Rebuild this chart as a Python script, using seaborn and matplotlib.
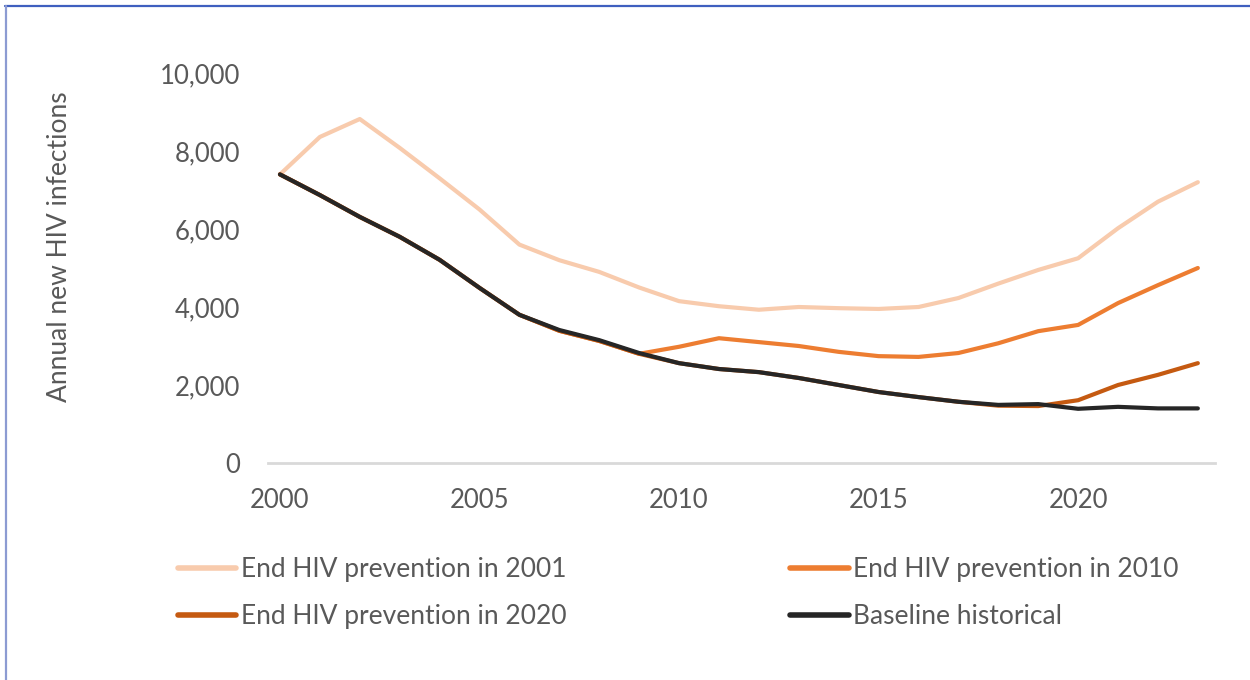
import matplotlib
matplotlib.use("Agg")
import matplotlib.pyplot as plt
from matplotlib.lines import Line2D
import seaborn as sns
import pandas as pd
from matplotlib.ticker import FuncFormatter

years = list(range(2000, 2024))

end_2001 = [7400, 8360, 8820, 8080, 7300, 6500, 5600, 5200, 4900, 4500,
            4150, 4020, 3930, 4000, 3970, 3950, 4000, 4230, 4600, 4950,
            5250, 6020, 6700, 7200]
end_2010 = [7400, 6870, 6310, 5800, 5210, 4490, 3800, 3390, 3130, 2800,
            2980, 3200, 3100, 3000, 2850, 2740, 2720, 2820, 3070, 3380,
            3540, 4100, 4560, 5000]
end_2020 = [7400, 6870, 6310, 5800, 5210, 4490, 3800, 3390, 3130, 2800,
            2560, 2410, 2330, 2180, 2000, 1820, 1690, 1570, 1470, 1460,
            1610, 2000, 2260, 2560]
baseline = [7400, 6870, 6310, 5800, 5210, 4490, 3800, 3410, 3150, 2820,
            2560, 2410, 2330, 2180, 2000, 1820, 1690, 1570, 1490, 1510,
            1390, 1440, 1400, 1400]

series_names = ["End HIV prevention in 2001", "End HIV prevention in 2010",
                "End HIV prevention in 2020", "Baseline historical"]
series_values = [end_2001, end_2010, end_2020, baseline]
series_colors = ["#f8cbad", "#ed7d31", "#c55a11", "#262626"]

y_ticks = [0, 2000, 4000, 6000, 8000, 10000]
x_ticks = [2000, 2005, 2010, 2015, 2020]

df = pd.DataFrame({
    "year": years * len(series_names),
    "value": [v for vals in series_values for v in vals],
    "series": [n for n in series_names for _ in years],
})

sns.set_theme(style="white")
plt.rcParams["font.family"] = ["Lato", "DejaVu Sans"]
text_color = "#595959"

fig = plt.figure(figsize=(12.5, 6.8), dpi=100)
ax = fig.add_axes([268 / 1250, 1 - 463 / 680, (1215 - 268) / 1250, (463 - 73) / 680])

sns.lineplot(data=df, x="year", y="value", hue="series", hue_order=series_names,
             palette=series_colors, linewidth=3.0, ax=ax, legend=False,
             solid_capstyle="round", solid_joinstyle="round")

ax.set_xlim(1999.7, 2023.43)
ax.set_ylim(0, 10000)
ax.set_xticks(x_ticks)
ax.set_yticks(y_ticks)
ax.yaxis.set_major_formatter(FuncFormatter(lambda v, p: f"{int(v):,}"))
ax.tick_params(axis="both", length=0, labelsize=18.5, labelcolor=text_color)
ax.tick_params(axis="y", pad=20)
ax.tick_params(axis="x", pad=18)
ax.set_xlabel("")
ax.set_ylabel("Annual new HIV infections", fontsize=19, color=text_color)
ax.yaxis.set_label_coords(-0.207, 0.555)
for side in ["top", "right", "left"]:
    ax.spines[side].set_visible(False)
ax.spines["bottom"].set_color("#d9d9d9")
ax.spines["bottom"].set_linewidth(2)
ax.grid(False)

# legend filled column by column: left column holds 2001 and 2020, right column 2010 and baseline
order = [0, 2, 1, 3]
handles = [Line2D([0], [0], color=series_colors[i], linewidth=4.0, solid_capstyle="round") for i in order]
labels = [series_names[i] for i in order]
fig.legend(handles, labels, loc="upper left", bbox_to_anchor=(154 / 1250, 1 - 533 / 680),
           ncol=2, frameon=False, fontsize=19, labelcolor=text_color,
           handlelength=2.2, handletextpad=0.18, columnspacing=8.5, labelspacing=0.85)

# frame edges
fig.add_artist(Line2D([5 / 1250, 1], [1 - 6 / 680, 1 - 6 / 680], color="#3f5fbf", linewidth=1.6))
fig.add_artist(Line2D([5.5 / 1250, 5.5 / 1250], [0, 1 - 6 / 680], color="#8c9bd2", linewidth=1.6))

fig.savefig("out.png", dpi=100, facecolor="white")
